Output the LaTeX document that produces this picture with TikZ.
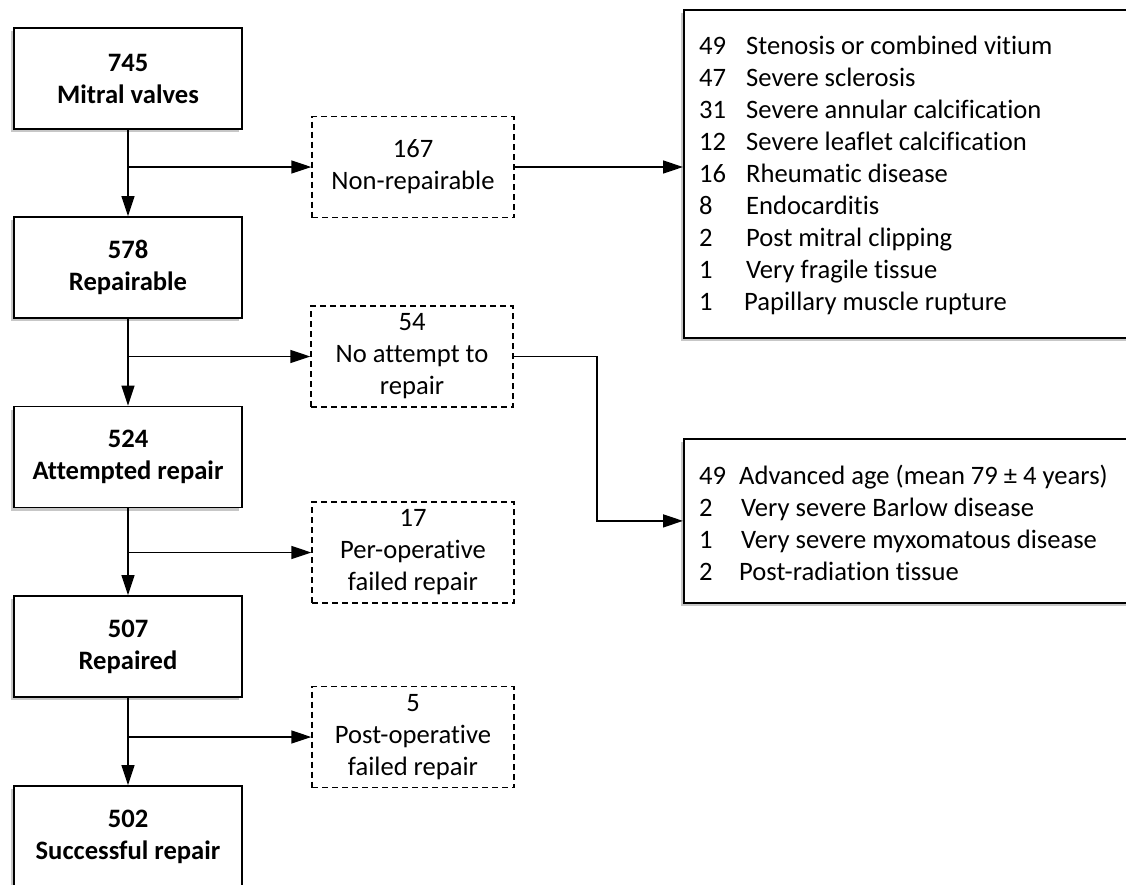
\documentclass[tikz,border=0pt]{standalone}
\usepackage{fontspec}
\setmainfont{Carlito}[Ligatures={NoCommon}]
\usetikzlibrary{arrows.meta,shadows}
\begin{document}
\begin{tikzpicture}[x=1pt,y=-1pt,
  font=\fontsize{26.6}{32}\selectfont,
  boxshadow/.style={drop shadow={shadow xshift=-3pt, shadow yshift=-3pt, fill=black, opacity=0.22}},
  mainbox/.style={draw, line width=1.8pt, fill=white, minimum width=228pt, minimum height=101pt,
    align=center, inner sep=0pt, font=\fontsize{26.6}{32}\selectfont\bfseries, boxshadow},
  dashbox/.style={draw, line width=1.4pt, dash pattern=on 6pt off 4pt, fill=white,
    minimum width=202pt, minimum height=101pt, align=center, inner sep=0pt},
  listbox/.style={draw, line width=1.8pt, fill=white, anchor=north west, inner sep=0pt,
    minimum width=470pt, boxshadow},
  listtext/.style={anchor=base west, inner sep=0pt},
  conn/.style={line width=1.4pt, -{Triangle[length=20pt,width=13pt]}}
]
\clip (0,0) rectangle (1126,884);
\fill[white] (0,0) rectangle (1126,884);

% main column
\node[mainbox] (b1) at (128,78.5) {745\\Mitral valves};
\node[mainbox] (b2) at (128,267.5) {578\\Repairable};
\node[mainbox] (b3) at (128,457) {524\\Attempted repair};
\node[mainbox] (b4) at (128,646.5) {507\\Repaired};
\node[mainbox] (b5) at (128,836.5) {502\\Successful repair};

% excluded boxes
\node[dashbox] (d1) at (413,167) {167\\Non-repairable};
\node[dashbox] (d2) at (412,356.5) {54\\No attempt to\\repair};
\node[dashbox] (d3) at (413,552.5) {17\\Per-operative\\failed repair};
\node[dashbox] (d4) at (413,737) {5\\Post-operative\\failed repair};

% reason lists
\node[listbox, minimum height=328pt] (r1) at (683,9) {};
\node[listtext] (l1) at (699,54) {\begin{tabular}[t]{@{}p{47pt}@{}l@{}}
49 & Stenosis or combined vitium\\
47 & Severe sclerosis\\
31 & Severe annular calcification\\
12 & Severe leaflet calcification\\
16 & Rheumatic disease\\
8 & Endocarditis\\
2 & Post mitral clipping\\
1 & Very fragile tissue\\
1 & \hspace{-2pt}Papillary muscle rupture
\end{tabular}};

\node[listbox, minimum height=164pt] (r2) at (683,438) {};
\node[listtext] (l2) at (699,484) {\begin{tabular}[t]{@{}p{42pt}@{}l@{}}
49 & \hspace{-2pt}Advanced age (mean 79 ± 4 years)\\
2 & Very severe Barlow disease\\
1 & Very severe myxomatous disease\\
2 & \hspace{-2pt}Post-radiation tissue
\end{tabular}};

% vertical flow
\draw[conn] (b1.south) -- (b2.north);
\draw[conn] (b2.south) -- (b3.north);
\draw[conn] (b3.south) -- (b4.north);
\draw[conn] (b4.south) -- (b5.north);

% branches
\draw[conn] (b1.south |- d1.west) -- (d1.west);
\draw[conn] (b2.south |- d2.west) -- (d2.west);
\draw[conn] (b3.south |- d3.west) -- (d3.west);
\draw[conn] (b4.south |- d4.west) -- (d4.west);

% to reason lists
\draw[conn] (d1.east) -- (d1.east -| r1.west);
\coordinate (k) at (597,0);
\draw[conn] (d2.east) -| (k |- r2.west) -- (r2.west);
\end{tikzpicture}
\end{document}
